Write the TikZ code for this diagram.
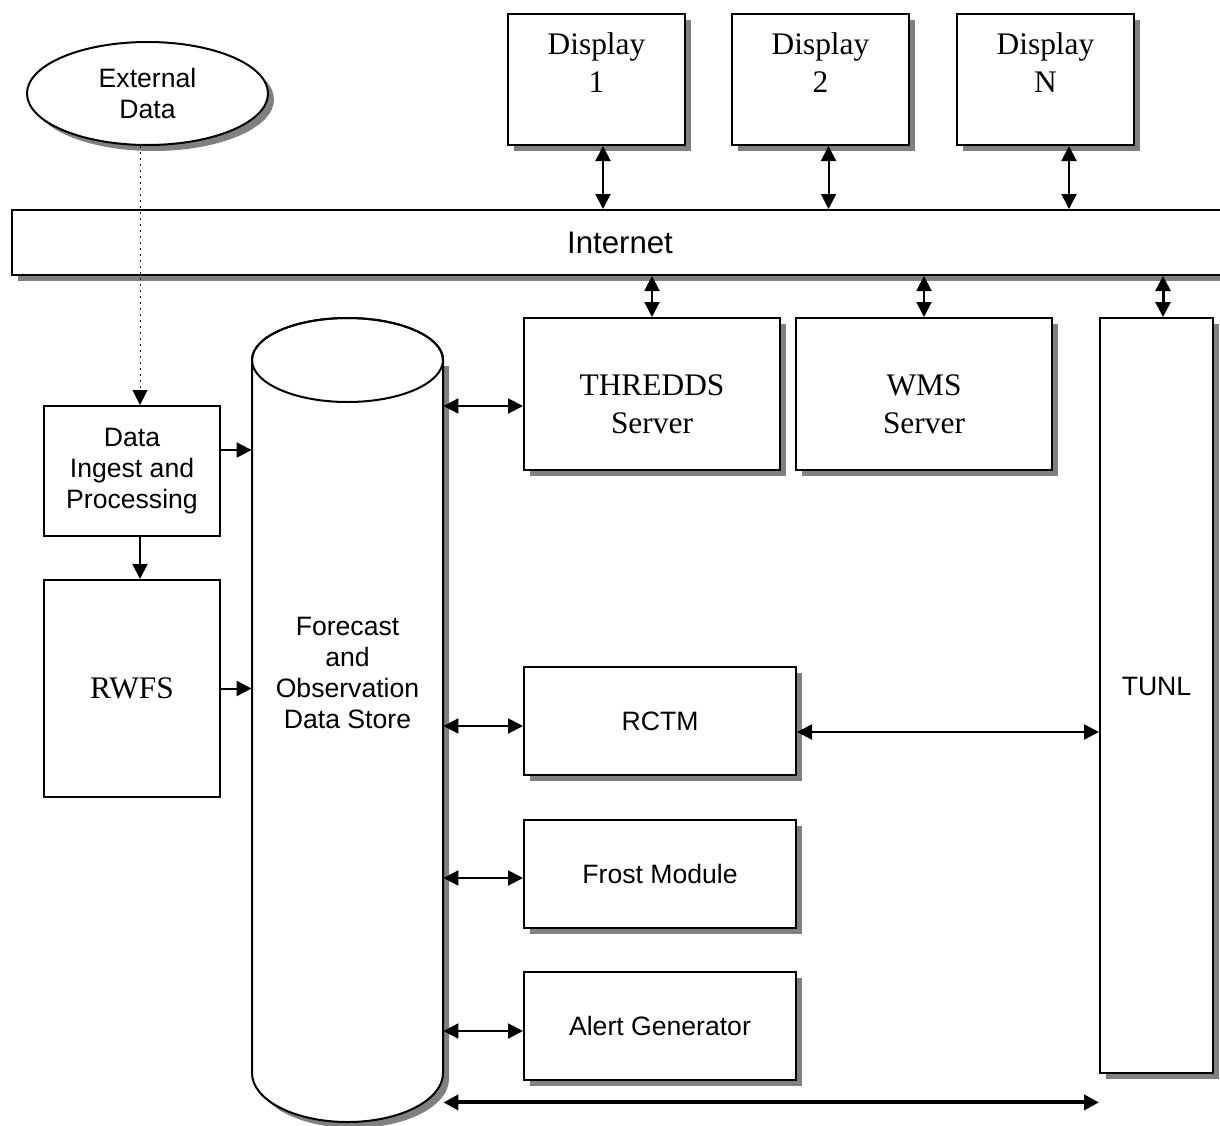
\documentclass[tikz,border=0pt]{standalone}
\usepackage{fontspec}
\setmainfont{Liberation Serif}
\newfontfamily\arialfont{Liberation Sans}
\usetikzlibrary{arrows.meta, positioning, shapes.geometric, calc, shadows}

\begin{document}
\begin{tikzpicture}[
    x=0.5pt, y=-0.5pt,
    node distance=21pt,
    box/.style={rectangle, draw, line width=1pt, fill=white, inner sep=0pt},
    shade/.style={drop shadow={shadow xshift=3pt, shadow yshift=-3pt, fill=black!50, opacity=1}},
    shadowbox/.style={box, shade},
    serif/.style={font=\fontsize{15.7}{19}\selectfont, align=center},
    sans/.style={font=\arialfont\fontsize{13.3}{15.5}\selectfont, align=center},
    disptext/.style={serif, inner sep=0pt, anchor=north, yshift=-9.5pt},
    srvtext/.style={serif, yshift=-5pt},
    display/.style={shadowbox, minimum width=88.5pt, minimum height=65.5pt},
    server/.style={shadowbox, minimum width=128pt, minimum height=76pt},
    module/.style={shadowbox, sans, minimum width=136pt, minimum height=54pt},
    link/.style={line width=1pt, {Triangle[length=7.5pt, width=7.5pt]}-{Triangle[length=7.5pt, width=7.5pt]}},
    feed/.style={line width=1pt, -{Triangle[length=7.5pt, width=7.5pt]}}
]
    \clip (0,0) rectangle (1220,1125);

    % displays and network
    \node[display, label={[disptext]north:{Display\\1}}] (d1) at (596.5,79.5) {};
    \node[display, right=22.5pt of d1, label={[disptext]north:{Display\\2}}] (d2) {};
    \node[display, right=23pt of d2, label={[disptext]north:{Display\\N}}] (dN) {};
    \node[shadowbox, minimum width=608pt, minimum height=32.5pt,
          font=\arialfont\fontsize{15.6}{18}\selectfont] (net) at (620,242.5) {Internet};

    % servers
    \node[server, label={[srvtext]center:{THREDDS\\Server}}] (thredds) at (652,394) {};
    \node[server, right=7pt of thredds, label={[srvtext]center:{WMS\\Server}}] (wms) {};
    \node[shadowbox, minimum width=56.5pt, minimum height=377.5pt,
          label={[sans, yshift=4.5pt]center:TUNL}] (tunl) at (1156.5,695.5) {};

    % modules
    \node[module] (rctm) at (660,721) {RCTM};
    \node[module, below=21.5pt of rctm] (frost) {Frost Module};
    \node[module, below=21pt of frost] (alert) {Alert Generator};

    % inputs
    \node[ellipse, draw, line width=1pt, fill=white, shade, sans, inner sep=0pt,
          minimum width=120.5pt, minimum height=51.5pt] (ext) at (147.5,93.5) {External\\Data};
    \node[box, sans, minimum width=88pt, minimum height=65pt] (ingest) at (132,471) {Data\\Ingest and\\Processing};
    \node[box, serif, minimum width=88pt, minimum height=108.5pt, below=of ingest] (rwfs) {RWFS};

    % data store cylinder
    \node[rectangle, inner sep=0pt, minimum width=95.5pt, minimum height=402pt] (store) at (347.5,720) {};
    \fill[black!50, shift={(6,6)}] (252,360) -- (252,1073)
        arc[start angle=180, end angle=0, x radius=95.5, y radius=49] -- (443,360) -- cycle;
    \filldraw[fill=white, line width=1pt] (252,360) -- (252,1073)
        arc[start angle=180, end angle=0, x radius=95.5, y radius=49] -- (443,360)
        arc[start angle=0, end angle=-180, x radius=95.5, y radius=42] -- cycle;
    \draw[line width=1pt] (347.5,360) ellipse[x radius=95.5, y radius=42];
    \node[sans] (storelbl) at (347.5,673) {Forecast\\and\\Observation\\Data Store};

    % displays <-> internet
    \coordinate (d1p) at ($(d1.south)+(6.5,0)$);
    \coordinate (d2p) at ($(d2.south)+(8,0)$);
    \coordinate (dNp) at ($(dN.south)+(23.5,0)$);
    \draw[link] (d1p) -- (d1p |- net.north);
    \draw[link] (d2p) -- (d2p |- net.north);
    \draw[link] (dNp) -- (dNp |- net.north);

    % internet <-> servers
    \draw[link] (thredds.north) -- (thredds.north |- net.south);
    \draw[link] (wms.north) -- (wms.north |- net.south);
    \coordinate (tunlp) at ($(tunl.north)+(6.5,0)$);
    \draw[link, line width=1.5pt] (tunlp |- net.south) -- (tunlp);

    % store <-> modules
    \coordinate (thp) at ($(thredds.west)+(0,12)$);
    \coordinate (rcp) at ($(rctm.west)+(0,5)$);
    \coordinate (frp) at ($(frost.west)+(0,4)$);
    \coordinate (alp) at ($(alert.west)+(0,5)$);
    \draw[link] (thp -| store.east) -- (thp);
    \draw[link] (rcp -| store.east) -- (rcp);
    \draw[link] (frp -| store.east) -- (frp);
    \draw[link] (alp -| store.east) -- (alp);
    \coordinate (rct) at ($(rctm.east)+(0,11)$);
    \draw[link] (rct) -- (rct -| tunl.west);
    \coordinate (botp) at ($(store.south east)+(0,-20)$);
    \draw[link, line width=2pt] (botp) -- (botp -| tunl.west);

    % inputs -> store
    \coordinate (exq) at ($(ingest.north)+(8,0)$);
    \draw[feed, dotted, line width=0.5pt] (exq |- ext.south) -- (exq);
    \coordinate (inp) at ($(ingest.east)+(0,-21)$);
    \draw[feed] (inp) -- (inp -| store.west);
    \coordinate (inq) at ($(ingest.south)+(8,0)$);
    \draw[feed] (inq) -- (inq |- rwfs.north);
    \draw[feed] (rwfs.east) -- (rwfs.east -| store.west);
\end{tikzpicture}
\end{document}
